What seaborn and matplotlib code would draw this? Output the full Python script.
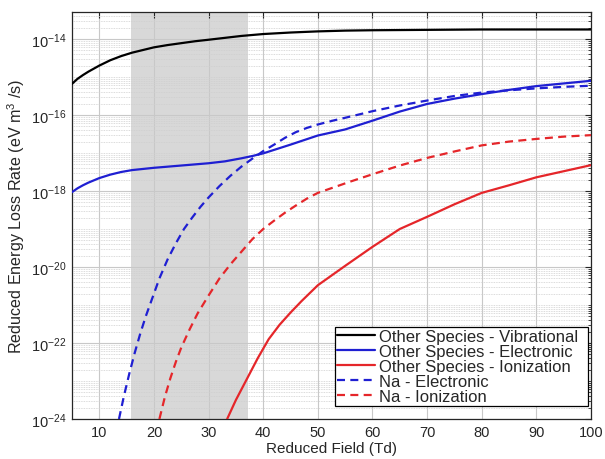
import numpy as np
import pandas as pd
import matplotlib
matplotlib.use("Agg")
import matplotlib.pyplot as plt
import matplotlib.ticker as mticker
import seaborn as sns

# Reduced field (Td) and log10 of reduced energy loss rate (eV m^3/s)
vib_x = [5, 6, 7, 8, 9, 10, 12, 14, 16, 18, 20, 22.5, 25, 27.5, 30, 33, 36, 40,
         45, 50, 55, 60, 70, 80, 90, 100]
vib_log = [-15.18, -15.05, -14.95, -14.86, -14.78, -14.70, -14.56, -14.45, -14.36,
           -14.29, -14.22, -14.16, -14.11, -14.06, -14.02, -13.97, -13.92, -13.87,
           -13.83, -13.80, -13.78, -13.77, -13.76, -13.75, -13.75, -13.75]

elec_x = [5, 6, 7, 8, 10, 12, 14, 16, 18, 20, 25, 30, 33, 36, 38, 40, 45, 50, 55,
          60, 65, 70, 75, 80, 85, 90, 95, 100]
elec_log = [-18.03, -17.93, -17.85, -17.78, -17.66, -17.57, -17.50, -17.45, -17.42,
            -17.39, -17.33, -17.27, -17.22, -17.14, -17.08, -17.01, -16.78, -16.54,
            -16.38, -16.15, -15.91, -15.71, -15.57, -15.45, -15.34, -15.24, -15.17,
            -15.10]

ion_x = [33.4, 35, 37, 39, 41, 43, 45, 47, 50, 55, 60, 65, 70, 75, 80, 85, 90, 95, 100]
ion_log = [-24.0, -23.5, -22.95, -22.4, -21.9, -21.52, -21.2, -20.9, -20.48, -19.97,
           -19.47, -19.0, -18.68, -18.35, -18.05, -17.85, -17.64, -17.48, -17.32]

na_elec_x = [13.6, 14.5, 15.5, 16.5, 17.5, 18.5, 20, 21, 22.5, 24, 25.5, 27, 28.5,
             30, 32, 34, 36, 38, 40, 42, 44, 46, 48, 50, 53, 56, 60, 65, 70, 75, 80,
             85, 90, 95, 100]
na_elec_log = [-24.0, -23.4, -22.8, -22.25, -21.75, -21.3, -20.7, -20.3, -19.8,
               -19.38, -19.0, -18.7, -18.42, -18.17, -17.87, -17.6, -17.36, -17.15,
               -16.95, -16.78, -16.6, -16.45, -16.34, -16.25, -16.14, -16.04, -15.9,
               -15.75, -15.62, -15.5, -15.41, -15.35, -15.30, -15.26, -15.23]

na_ion_x = [21, 22, 23, 24, 25, 26.5, 28, 30, 32, 34, 36, 38, 40, 42, 44, 46, 48,
            50, 53, 56, 60, 65, 70, 75, 80, 85, 90, 95, 100]
na_ion_log = [-24.0, -23.42, -22.93, -22.5, -22.12, -21.65, -21.22, -20.75, -20.3,
              -19.93, -19.6, -19.27, -19.0, -18.78, -18.57, -18.38, -18.2, -18.05,
              -17.9, -17.75, -17.56, -17.33, -17.13, -16.96, -16.80, -16.70, -16.63,
              -16.57, -16.53]

labels = ["Other Species - Vibrational", "Other Species - Electronic",
          "Other Species - Ionization", "Na - Electronic", "Na - Ionization"]
colors = ["#000000", "#1f1fd2", "#e5262a", "#1f1fd2", "#e5262a"]
solid = [True, True, True, False, False]

# Shaded field range (Td)
span_lo, span_hi = 15.8, 37.3

sns.set_theme(style="white")
plt.rcParams["font.family"] = ["Liberation Sans", "DejaVu Sans"]
plt.rcParams["mathtext.fontset"] = "custom"
plt.rcParams["mathtext.rm"] = "Liberation Sans"
plt.rcParams["mathtext.it"] = "Liberation Sans"

fig = plt.figure(figsize=(6.05, 4.6), dpi=100)
ax = fig.add_axes([72 / 605, 1 - 420 / 460, (591 - 72) / 605, (420 - 13) / 460])

ax.axvspan(span_lo, span_hi, color="#d8d8d8", lw=0, zorder=0.2)

series = [(vib_x, vib_log), (elec_x, elec_log), (ion_x, ion_log),
          (na_elec_x, na_elec_log), (na_ion_x, na_ion_log)]
dash_pat = (3.6, 2.4)
for (xs, ls), lab, col, sol in zip(series, labels, colors, solid):
    df = pd.DataFrame({"field": xs, "rate": np.power(10.0, ls)})
    sns.lineplot(data=df, x="field", y="rate", ax=ax, color=col, lw=1.6,
                 label=lab, zorder=3)
    if not sol:
        ax.get_lines()[-1].set_dashes(dash_pat)

ax.set_yscale("log")
ax.set_xlim(5, 100)
ax.set_ylim(1e-24, 10 ** -13.29)

ax.xaxis.set_major_locator(mticker.MultipleLocator(10))
ax.yaxis.set_major_locator(mticker.FixedLocator([10.0 ** k for k in range(-24, -13, 2)]))
ax.yaxis.set_minor_locator(mticker.LogLocator(base=10, subs=np.arange(1, 10), numticks=50))
ax.yaxis.set_minor_formatter(mticker.NullFormatter())
ax.yaxis.set_major_formatter(mticker.FuncFormatter(lambda v, p: r"$10^{%d}$" % round(np.log10(v))))

ax.set_axisbelow(True)
ax.grid(which="major", axis="both", color="#c8c8c8", lw=0.8, ls="-")
ax.grid(which="minor", axis="y", color="#cfcfcf", lw=0.6, ls=(0, (1, 1)))

ax.tick_params(which="both", direction="in", top=True, right=True,
               labelsize=10.5, colors="#262626", pad=4)
ax.tick_params(which="major", length=4, width=0.8)
ax.tick_params(which="minor", length=2.2, width=0.6)
for sp in ax.spines.values():
    sp.set_color("#262626")
    sp.set_linewidth(0.9)

ax.set_xlabel("Reduced Field (Td)", fontsize=11, color="#262626", labelpad=2)
ax.set_ylabel(r"Reduced Energy Loss Rate (eV m$^{3}$ /s)", fontsize=11.6,
              color="#262626", labelpad=3)

leg = ax.legend(loc="lower left", bbox_to_anchor=(0.507, 0.032, 0.4875, 0.2),
                mode="expand", borderaxespad=0, fontsize=12, frameon=True,
                fancybox=False, handlelength=2.3, handletextpad=0.2,
                labelspacing=0.0, borderpad=0.12)
leg.get_frame().set_edgecolor("#000000")
leg.get_frame().set_linewidth(0.9)
leg.get_frame().set_facecolor("white")
leg.get_frame().set_alpha(1)
for h in leg.get_lines()[3:]:
    h.set_dashes(dash_pat)

fig.savefig("out.png", dpi=100)
